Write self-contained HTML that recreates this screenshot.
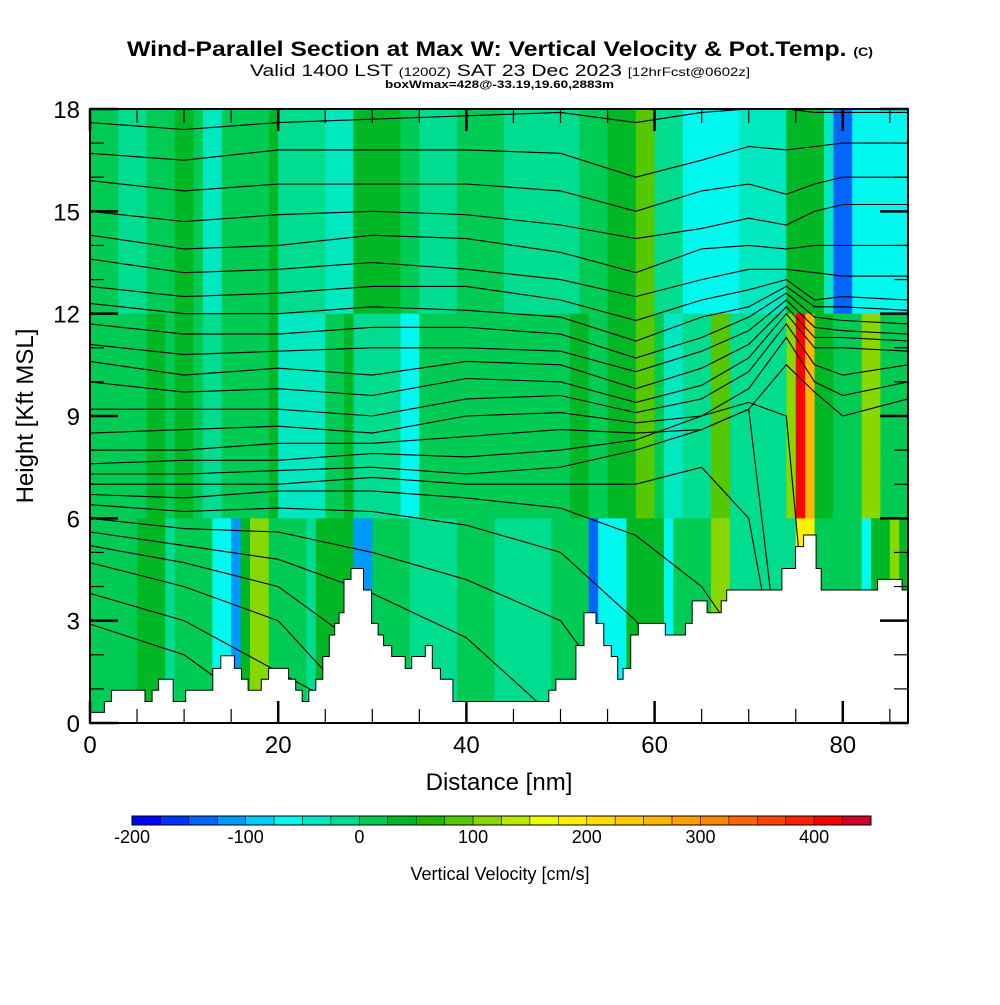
<!DOCTYPE html>
<html><head><meta charset="utf-8"><style>
body{margin:0;background:#fff;}
svg text{font-family:"Liberation Sans",sans-serif;}
</style></head><body>
<svg id="c" width="1000" height="1000" viewBox="0 0 1000 1000" xmlns="http://www.w3.org/2000/svg">
<rect width="1000" height="1000" fill="#fff"/>
<text x="127" y="56" textLength="746" lengthAdjust="spacingAndGlyphs" font-size="21" font-weight="bold">Wind-Parallel Section at Max W: Vertical Velocity &amp; Pot.Temp. <tspan font-size="12">(C)</tspan></text>
<text x="250" y="76" textLength="500" lengthAdjust="spacingAndGlyphs" font-size="17">Valid 1400 LST <tspan font-size="12">(1200Z)</tspan> SAT 23 Dec 2023 <tspan font-size="12">[12hrFcst@0602z]</tspan></text>
<text x="385" y="88" textLength="229" lengthAdjust="spacingAndGlyphs" font-size="11" font-weight="bold">boxWmax=428@-33.19,19.60,2883m</text>
<g id="field"></g>
<g id="contours"></g>
<g id="terrain"></g>
<g id="axes"></g>
<g id="cbar"></g>
<text x="499" y="790" text-anchor="middle" font-size="24">Distance [nm]</text>
<text transform="translate(33,416) rotate(-90)" text-anchor="middle" font-size="24">Height [Kft MSL]</text>
<text x="500" y="880" text-anchor="middle" font-size="18">Vertical Velocity [cm/s]</text>
</svg>
<script>
// ---- data ----
const upperW = [10,10,10,-10,-10,-10,10,10,10,40,40,10,-40,-40,10,10,10,10,10,40,-10,-10,-10,-10,-10,-40,-40,-40,40,40,40,40,40,10,10,-10,-10,-10,-10,10,10,10,10,10,-10,-10,-10,-10,-10,-10,-10,-10,10,10,10,40,40,40,80,80,-10,-10,-10,-60,-60,-60,-60,-60,-60,-40,-40,-40,-40,-40,40,40,40,40,-40,-150,-150,-60,-60,-60,-60,-60,-60,-60];
const midW = [10,10,10,10,10,10,40,40,10,40,40,10,-10,-10,10,10,10,10,10,40,-40,-40,-40,-40,-40,10,10,40,-10,-10,-10,-10,-10,-60,-60,10,10,10,10,10,10,10,10,10,10,10,10,10,10,10,10,40,40,10,10,40,40,40,80,80,10,-40,-40,-10,-10,-10,80,80,-10,-10,-10,-10,-10,-10,100,420,250,40,40,10,10,10,100,100,10,10,10,10];
const lowW = [10,10,10,10,10,40,40,40,-10,10,10,10,10,-60,-60,-120,40,100,100,10,10,10,10,-10,40,40,40,40,-120,-120,10,10,10,10,-10,-10,-10,-10,-10,10,10,10,10,-10,-10,-10,-10,-10,-10,10,10,10,10,-150,-60,-60,-60,40,40,40,40,-60,10,10,10,10,100,100,-10,-10,-10,-10,-10,-10,-10,180,180,10,10,10,10,10,-60,40,40,100,40,40];
const layerBottoms = [12, 6, 0];
const layerTops = [18, 12, 6];
const colorLevels = [-200,-175,-150,-125,-100,-75,-50,-25,0,25,50,75,100,125,150,175,200,225,250,275,300,325,350,375,400,425,450];
const colorTickLabels = ["-200","-100","0","100","200","300","400"];
const colorTickValues = [-200,-100,0,100,200,300,400];
const palette = ["#0000ff","#0033ff","#0066ff","#0099ff","#00ccff","#00f8ee","#00e8c0","#00dc90","#00cc55","#00b825","#22b800","#55c800","#88d800","#bbea00","#eeff00","#ffee00","#ffdd00","#ffc800","#ffb400","#ffa000","#ff8800","#ff6600","#ff4400","#ff2200","#ff0000","#d00028"];
const terrainStartNm = [0,1.53,2.28,5.85,6.6,7.29,8.84,10.17,13.05,13.9,15.35,16.1,16.8,18.2,18.98,21.1,21.86,22.55,23.25,24.0,24.74,25.43,26.0,26.47,26.99,27.74,29.06,29.93,30.62,31.2,32.06,33.5,34.19,35.63,36.38,37.24,38.57,48.76,49.51,51.64,52.5,53.77,54.6,55.4,56.08,56.65,57.46,58.27,61.14,63.28,64.0,65.58,67.08,67.66,73.53,74.97,75.83,77.16,77.7,83.7,86.3];
const terrainKft = [0.31,0.63,0.96,0.63,0.96,1.28,0.63,0.96,1.60,1.97,1.60,1.28,0.96,1.28,1.60,1.28,0.96,0.63,0.96,1.28,1.95,2.58,2.92,3.23,4.21,4.53,3.90,2.92,2.58,2.27,1.95,1.60,1.95,2.27,1.60,1.28,0.63,0.96,1.28,2.27,3.23,2.92,2.27,1.95,1.28,1.60,2.58,2.92,2.58,2.92,3.58,3.23,3.58,3.90,4.53,5.17,5.51,4.53,3.90,4.21,3.90];
const contourStations = [0,10,20,30,40,50,58,65,70,74,77,80,87];
const thetaLines = [
 [17.6,17.4,17.6,17.7,17.8,17.9,17.6,17.9,18.0,18.0,17.9,17.9,17.9],
 [16.7,16.5,16.8,16.8,16.8,16.7,16.0,16.5,16.9,16.8,16.9,17.0,17.0],
 [15.9,15.6,15.8,15.8,15.8,15.6,15.0,15.6,15.8,15.5,15.8,16.0,16.0],
 [15.0,14.7,14.9,15.0,14.9,14.6,14.2,14.5,14.8,14.6,15.0,15.2,15.2],
 [14.3,13.9,14.0,14.3,14.2,13.8,13.2,13.9,14.0,13.9,14.0,14.0,14.0],
 [13.6,13.2,13.3,13.5,13.3,13.0,12.5,13.0,13.3,13.3,13.2,13.1,13.1],
 [12.8,12.5,12.6,12.8,12.8,12.4,11.8,12.4,12.7,13.0,12.4,12.5,12.4],
 [12.3,12.0,12.0,12.2,12.1,11.9,11.2,11.9,12.2,12.8,12.2,12.2,12.1],
 [11.7,11.4,11.4,11.6,11.6,11.4,10.7,11.3,11.9,12.6,11.9,11.8,11.7],
 [11.1,10.8,10.9,11.0,11.0,10.9,10.3,10.9,11.5,12.4,11.6,11.5,11.4],
 [10.6,10.2,10.4,10.2,10.6,10.5,9.8,10.4,11.1,12.2,11.3,11.3,11.2],
 [10.0,9.7,9.8,9.6,10.1,10.0,9.4,9.9,10.7,12.0,11.0,11.0,10.9],
 [9.2,9.2,9.2,9.0,9.5,9.6,9.1,9.5,10.3,11.7,10.5,10.2,10.5],
 [8.5,8.6,8.7,8.5,9.0,9.1,8.8,9.0,9.8,11.3,10.0,9.6,10.0],
 [8.0,8.0,8.2,8.2,8.4,8.6,8.5,8.6,9.2,10.5,9.7,9.0,9.5],
 [7.6,7.7,7.7,7.9,7.8,8.0,8.3,9.0,9.4,9.0,0,0,0],
 [7.3,7.3,7.4,7.5,7.3,7.5,8.0,8.6,9.2,0,0,0,0],
 [7.0,7.0,7.0,7.2,7.0,7.0,7.0,7.5,6.0,0,0,0,0],
 [6.7,6.6,6.8,6.8,6.6,6.3,5.5,4.0,2.0,0,0,0,0],
 [6.4,6.2,6.3,6.2,5.8,5.0,3.0,0,0,0,0,0,0],
 [6.0,5.7,5.6,5.0,4.2,3.0,0,0,0,0,0,0,0],
 [5.6,5.2,4.8,3.8,2.5,0,0,0,0,0,0,0,0],
 [5.2,4.7,4.0,2.0,0,0,0,0,0,0,0,0,0],
 [4.7,4.0,3.0,0,0,0,0,0,0,0,0,0,0],
 [3.8,3.0,1.5,0,0,0,0,0,0,0,0,0,0],
 [2.9,2.0,0,0,0,0,0,0,0,0,0,0,0]
];
const xTickValues = [0,20,40,60,80];
const xTickLabels = ["0","20","40","60","80"];
const yTickValues = [0,3,6,9,12,15,18];
const yTickLabels = ["0","3","6","9","12","15","18"];

// ---- scales ----
const X0=90, X1=908, Y0=723, Y1=109, XMAX=(908-90)/9.41, YMAX=18;
function xS(n){return X0+n*9.41;}
function yS(k){return Y0-k*(Y0-Y1)/YMAX;}
function cS(v){return 132+(v+200)*(871-132)/650;}
function colorFor(w){let i=Math.floor((w+200)/25);i=Math.max(0,Math.min(palette.length-1,i));return palette[i];}
const NS="http://www.w3.org/2000/svg";
function mk(tag,attrs,parent){const e=document.createElementNS(NS,tag);for(const k in attrs)e.setAttribute(k,attrs[k]);parent.appendChild(e);return e;}

// ---- field ----
const field=document.getElementById('field');
[upperW,midW,lowW].forEach((arr,li)=>{
  arr.forEach((w,i)=>{
    const xa=xS(i), xb=xS(Math.min(i+1,XMAX));
    if(xb<=xa) return;
    const r=mk('rect',{x:xa,y:yS(layerTops[li]),width:xb-xa+0.6,height:yS(layerBottoms[li])-yS(layerTops[li])+0.6,fill:colorFor(w)},field);
    
    
  });
});

// ---- contours ----
const cg=document.getElementById('contours');
const clip=mk('clipPath',{id:'plotclip'},cg);
mk('rect',{x:X0,y:Y1,width:X1-X0,height:Y0-Y1},clip);
thetaLines.forEach(line=>{
  const pts=line.map((k,j)=>xS(Math.min(contourStations[j],XMAX)).toFixed(1)+','+yS(k).toFixed(1)).join(' ');
  const p=mk('polyline',{points:pts,fill:'none',stroke:'#000','stroke-width':1.1,'clip-path':'url(#plotclip)'},cg);
  
  
});

// ---- terrain ----
const tg=document.getElementById('terrain');
let d='M'+X0+','+Y0;
terrainStartNm.forEach((n,i)=>{
  const xa=xS(n), xb=xS(Math.min(i+1<terrainStartNm.length?terrainStartNm[i+1]:XMAX,XMAX));
  d+=' L'+xa.toFixed(1)+','+yS(terrainKft[i]).toFixed(1)+' L'+xb.toFixed(1)+','+yS(terrainKft[i]).toFixed(1);
});
d+=' L'+X1+','+Y0+' Z';
const tp=mk('path',{d:d,fill:'#fff',stroke:'#000','stroke-width':1},tg);



// ---- axes ----
const ag=document.getElementById('axes');
const fr=mk('rect',{x:X0,y:Y1,width:X1-X0,height:Y0-Y1,fill:'none',stroke:'#000','stroke-width':2},ag);


for(let n=0;n<=85;n+=5){
  const major=(n%20===0), len=major?22:14;
  mk('line',{x1:xS(n),y1:Y0,x2:xS(n),y2:Y0-len,stroke:'#000','stroke-width':major?2.5:1.2},ag);
  mk('line',{x1:xS(n),y1:Y1,x2:xS(n),y2:Y1+len,stroke:'#000','stroke-width':major?2.5:1.2},ag);
}
for(let k=0;k<=18;k++){
  const major=(k%3===0), len=major?28:14;
  mk('line',{x1:X0,y1:yS(k),x2:X0+len,y2:yS(k),stroke:'#000','stroke-width':major?2.5:1.2},ag);
  mk('line',{x1:X1,y1:yS(k),x2:X1-len,y2:yS(k),stroke:'#000','stroke-width':major?2.5:1.2},ag);
}
xTickValues.forEach((v,i)=>{
  const t=mk('text',{x:xS(v),y:753,'text-anchor':'middle','font-size':24},ag);
  t.textContent=xTickLabels[i];
  
  
});
yTickValues.forEach((v,i)=>{
  const t=mk('text',{x:80,y:yS(v)+9,'text-anchor':'end','font-size':24},ag);
  t.textContent=yTickLabels[i];
  
  
});

// ---- colorbar ----
const cb=document.getElementById('cbar');
for(let i=0;i<colorLevels.length-1;i++){
  const r=mk('rect',{x:cS(colorLevels[i]),y:816,width:cS(colorLevels[i+1])-cS(colorLevels[i]),height:9,fill:palette[i],stroke:'#000','stroke-width':0.5},cb);
  
  
}
mk('rect',{x:132,y:816,width:739,height:9,fill:'none',stroke:'#000','stroke-width':1},cb);
colorTickValues.forEach((v,i)=>{
  const t=mk('text',{x:cS(v),y:843,'text-anchor':'middle','font-size':18},cb);
  t.textContent=colorTickLabels[i];
  
  
});
</script>
</body></html>
